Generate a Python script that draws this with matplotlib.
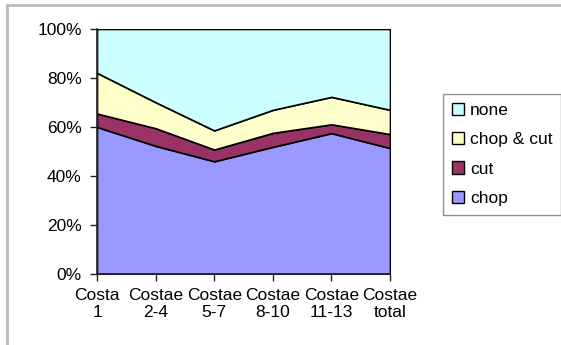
import matplotlib.pyplot as plt
from matplotlib.patches import Patch
from matplotlib.lines import Line2D

plt.rcParams['font.family'] = ['Liberation Sans', 'DejaVu Sans']

categories = ['Costa\n1', 'Costae\n2-4', 'Costae\n5-7', 'Costae\n8-10', 'Costae\n11-13', 'Costae\ntotal']
chop = [60.0, 52.3, 46.0, 51.9, 57.5, 51.4]
cut = [5.5, 7.2, 4.8, 5.7, 3.6, 5.7]
chop_cut = [16.6, 10.6, 7.8, 9.4, 11.2, 9.9]
none = [100 - a - b - c for a, b, c in zip(chop, cut, chop_cut)]

series = [('chop', chop, '#9999FF'), ('cut', cut, '#993366'),
          ('chop & cut', chop_cut, '#FFFFCC'), ('none', none, '#CCFFFF')]

fig = plt.figure(figsize=(5.61, 3.45), dpi=100)
ax = fig.add_axes([97 / 561, 71 / 345, 293 / 561, 245 / 345])

x = list(range(len(categories)))
ax.stackplot(x, [s[1] for s in series], colors=[s[2] for s in series],
             edgecolor='black', linewidth=1.2)
ax.set_xlim(0, len(categories) - 1)
ax.set_ylim(0, 100)

fs = 12.5
ax.set_yticks([0, 20, 40, 60, 80, 100])
ax.set_yticklabels(['0%', '20%', '40%', '60%', '80%', '100%'], fontsize=fs)
ax.set_xticks(x)
ax.set_xticklabels(categories, fontsize=fs, linespacing=1.2)
ax.tick_params(axis='both', direction='out', length=5, width=1, color='#222222')
ax.tick_params(axis='x', pad=5)
ax.tick_params(axis='y', pad=6)
for side in ['top', 'right']:
    ax.spines[side].set_visible(False)
for side in ['left', 'bottom']:
    ax.spines[side].set_color('#222222')
    ax.spines[side].set_linewidth(1.2)

handles = [Patch(facecolor=s[2], edgecolor='black', linewidth=1) for s in reversed(series)]
labels = [s[0] for s in reversed(series)]
leg = fig.legend(handles, labels, loc='upper left', bbox_to_anchor=(443 / 561, 1 - 94 / 345),
                 fontsize=fs, frameon=True, fancybox=False, handlelength=0.7, handleheight=0.7,
                 handletextpad=0.35, labelspacing=0.82, borderpad=0.5, borderaxespad=0)
leg.get_frame().set_edgecolor('#777777')
leg.get_frame().set_linewidth(1)

# gray frame lines on top and left
fig.add_artist(Line2D([7 / 561, 1], [1 - 5 / 345, 1 - 5 / 345], color='#BBBBBB', linewidth=2,
                      transform=fig.transFigure))
fig.add_artist(Line2D([7 / 561, 7 / 561], [0, 1 - 5 / 345], color='#BBBBBB', linewidth=2,
                      transform=fig.transFigure))

fig.savefig('out.png', dpi=100)
